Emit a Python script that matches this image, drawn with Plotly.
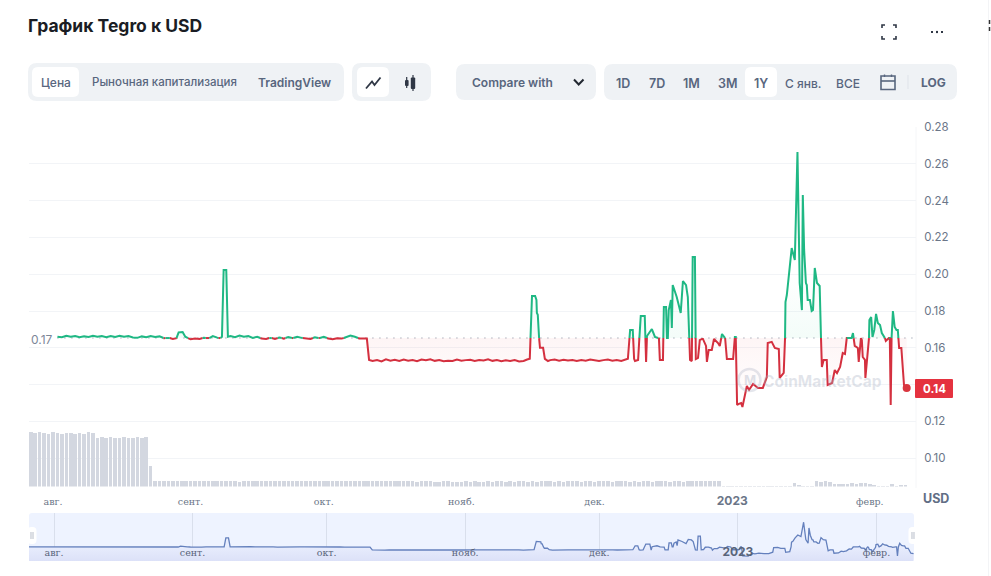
import numpy as np
import pandas as pd
import plotly.graph_objects as go

# ---------- data ----------
ORIGIN = "2022-08-01"
BASE_PRICE = 0.1653
TITLE = "График Tegro к USD"
Y_TICKS = [0.28, 0.26, 0.24, 0.22, 0.20, 0.18, 0.16, 0.14, 0.12, 0.10]
Y_LABELS = ["0.28", "0.26", "0.24", "0.22", "0.20", "0.18", "0.16", "", "0.12", "0.10"]
MONTH_DATES = ["2022-08-01", "2022-09-01", "2022-10-01", "2022-11-01", "2022-12-01", "2023-01-01", "2023-02-01"]
YEAR_LABEL = '<span style="font-family:Inter;font-size:12px;font-weight:700"><b>2023</b></span>'
MONTH_LABELS = ["авг.", "сент.", "окт.", "нояб.", "дек.", YEAR_LABEL, "февр."]

days_1 = [1, 2, 3, 4, 5, 6, 7, 8, 9, 10, 11, 12, 13, 14, 15, 16, 17, 18, 19, 20, 21, 22, 23, 24, 25, 26, 27, 27.8, 28.3, 29.2, 29.8, 30.5, 31, 32, 33, 34, 35, 36, 37, 37.6, 38.06, 38.44, 39.03, 39.4,
          40, 41, 42, 43, 44, 45, 46, 47, 48, 49, 50, 51, 52, 53, 54, 55, 56, 57, 58, 59, 60, 61, 62, 63, 64, 65, 66, 67, 68, 69, 70, 70.7, 71.2]
prices_1 = [.1660, .1657, .1665, .1660, .1664, .1658, .1663, .1659, .1665, .1660, .1664, .1658, .1664, .1659, .1665, .1660, .1664, .1656, .1654, .1662, .1658, .1664, .1659, .1662, .1652, .1655, .1648, .1652, .1684, .1686, .1660, .1652, .1646, .1650, .1648, .1655, .1650, .1664, .1655, .1650, .1660, .2023, .2023, .1660,
            .1664, .1658, .1666, .1660, .1664, .1654, .1660, .1650, .1648, .1655, .1648, .1656, .1650, .1658, .1652, .1660, .1654, .1650, .1648, .1657, .1652, .1660, .1650, .1646, .1652, .1650, .1656, .1666, .1660, .1650, .1650, .1650, .1534]

days_2 = [72, 73, 74, 75, 76, 77, 78, 79, 80, 81, 82, 83, 84, 85, 86, 87, 88, 89, 90, 91, 92, 93, 94, 95, 96, 97, 98, 99, 100, 101, 102, 103, 104, 105, 106, 106.8,
          107.4, 107.9, 108.6, 108.9, 109.0, 109.2, 109.5, 109.7, 110.4, 110.8, 111.5]
prices_2 = [.1528, .1534, .1526, .1537, .1530, .1535, .1528, .1536, .1530, .1534, .1527, .1536, .1532, .1537, .1529, .1533, .1527, .1530, .1528, .1536, .1530, .1533, .1535, .1529, .1534, .1531, .1537, .1529, .1533, .1527, .1532, .1528, .1534, .1526, .1528, .1536,
            .1540, .1882, .1882, .1860, .1789, .1780, .1653, .1600, .1600, .1540, .1528]

days_3 = [112, 113, 114, 115, 116, 117, 118, 119, 120, 121, 122, 123, 124, 125, 126, 127, 128, 129, 129.5, 130.0, 130.6, 130.9, 131.1, 131.8, 132.2, 132.4, 133.3, 133.6, 133.8,
          134.9, 135.6, 136.3, 136.5, 136.7, 137.4, 137.6, 138.1, 138.3, 138.5, 138.7, 139.2, 139.4, 139.6, 140.5, 141.4, 141.9, 142.6, 143.0, 143.5, 143.9, 144.1, 144.6, 144.8,
          145.3, 145.7, 146.2, 146.4, 147.1, 147.3, 147.7, 148.4, 148.9, 149.8, 150.2, 150.7, 151.4, 151.8, 153.2, 153.6, 153.8, 154.1, 154.5, 155.0, 155.3, 155.9, 156.3, 156.8, 157.7, 158.8, 159.9, 160.8]
prices_3 = [.1533, .1536, .1530, .1535, .1531, .1534, .1528, .1533, .1530, .1536, .1531, .1528, .1533, .1536, .1530, .1534, .1529, .1534, .1540, .1697, .1697, .1540, .1528, .1534, .1700, .1773, .1773, .1523, .1664,
            .1702, .1659, .1653, .1650, .1534, .1534, .1822, .1822, .1653, .1653, .1805, .1860, .1708, .1941, .1876, .1789, .1963, .1941, .1876, .1534, .1528, .2093, .2093, .1539,
            .1545, .1642, .1648, .1648, .1610, .1523, .1588, .1588, .1648, .1626, .1610, .1675, .1653, .1539, .1539, .1659, .1659, .1289, .1295, .1300, .1278, .1354, .1392, .1371, .1403, .1382, .1382, .1441]

days_4 = [161.0, 161.9, 162.6, 163.5, 163.7, 164.6, 164.9, 165.0, 165.3, 165.8, 166.4, 167.1, 167.7, 168.2, 168.7, 168.9, 169.2, 169.6, 169.8, 170.0, 170.5, 170.9, 171.2, 171.6, 172.1, 172.7, 173.0, 173.2,
          173.6, 174.3, 174.5, 175.5, 176.1, 176.6, 177.3, 177.9, 178.4, 178.8, 179.9, 180.2, 180.6, 181.3, 181.5, 182.0, 182.2, 182.4, 182.9, 183.0, 183.6, 183.8, 183.9, 184.3, 184.6, 185.0, 185.4, 185.8, 186.3, 186.7, 187.4, 187.6,
          188.3, 188.5, 188.7, 188.9, 189.2, 189.6, 190.0, 190.3, 190.6, 191.1, 191.7, 192.3]
prices_4 = [.1626, .1632, .1599, .1593, .1436, .1463, .1653, .1849, .1887, .2023, .2142, .2077, .2664, .1952, .1805, .2430, .2132, .1952, .1941, .1860, .1860, .1800, .1805, .2034, .1952, .1936, .1653, .1496,
            .1534, .1534, .1398, .1409, .1479, .1463, .1496, .1572, .1566, .1653, .1653, .1680, .1610, .1599, .1523, .1653, .1642, .1550, .1534, .1436, .1588, .1642, .1751, .1767, .1659, .1697, .1784, .1735, .1724, .1680, .1653, .1637,
            .1653, .1653, .1289, .1653, .1800, .1713, .1697, .1697, .1599, .1599, .1398, .1382]

vol_tall = [55, 54, 55, 54, 53, 55, 54, 53, 54, 54, 53, 54, 53, 55, 54, 49, 50, 49, 50, 49, 49, 50, 49, 49, 50, 49, 50]
vol_step = [21]
vol_small = [6, 6, 6, 6, 6, 6, 6, 6, 6, 6, 6, 6, 6, 6, 6, 6,
             6, 6, 6, 5.5, 6, 6, 6, 6, 6, 6, 6, 6, 6, 6, 6, 6,
             6, 6, 6, 6, 6, 6, 6, 6, 6, 6, 6, 6, 6, 6, 6, 6,
             6, 6, 6, 6, 6, 6, 6, 6, 6, 6, 6, 5.5, 6, 6, 6, 5.5,
             5.5, 6, 6, 5.5, 5.5, 5.5, 6, 5.5, 6, 5.5, 5.5, 6, 5.5, 6, 6, 5.5,
             6, 5.5, 6, 6, 5.5, 6, 5.5, 6, 6, 6, 5.5, 6, 5.5, 6, 6, 6,
             5.5, 6, 6, 5.5, 6, 6, 6, 5.5, 6, 6, 6, 5.5, 6, 5.5, 6, 6,
             5.5, 6, 6, 6, 5.5, 6, 6, 5.5, 6, 6, 6, 6, 6, 6, 6, 6]
vol_tiny = [1, 1, 1, 1, 1, 1, 1, 1, 1, .5, 1, 1, .5, 1, 1, 1, 4, 2, 1, 1, 1, 6, 5, 6, 5, 3, 3, 3, 3, 4, 3, 4, 4, 3, 2, 1, 1, 1, 3, 1, 2, 2]

# ---------- assembling ----------
origin = pd.Timestamp(ORIGIN)


def to_date(d):
    return origin + pd.to_timedelta(np.asarray(d, dtype=float), unit="D")


days = np.array(days_1 + days_2 + days_3 + days_4, dtype=float)
prices = np.array(prices_1 + prices_2 + prices_3 + prices_4, dtype=float)
assert len(days) == len(prices), (len(days), len(prices))

# cut the line where it crosses the opening price
sx, sy = [days[0]], [prices[0]]
for i in range(1, len(days)):
    p0, p1 = prices[i - 1], prices[i]
    if (p0 - BASE_PRICE) * (p1 - BASE_PRICE) < 0:
        t = (BASE_PRICE - p0) / (p1 - p0)
        sx.append(days[i - 1] + t * (days[i] - days[i - 1]))
        sy.append(BASE_PRICE)
    sx.append(days[i])
    sy.append(p1)
sx, sy = np.array(sx), np.array(sy)
dates = to_date(sx)
up_line = [v if v >= BASE_PRICE else None for v in sy]
dn_line = [v if v <= BASE_PRICE else None for v in sy]
up_fill = np.maximum(sy, BASE_PRICE)
dn_fill = np.minimum(sy, BASE_PRICE)
base_arr = np.full(len(sy), BASE_PRICE)

volumes = vol_tall + vol_step + vol_small + vol_tiny
vol_days = np.arange(-5, -5 + len(volumes))

W, H = 991, 576


def X(p):
    return p / W


def Y(p):
    return 1 - p / H


def pth(points, close=False):
    s = "M" + " L".join(f"{X(a):.5f},{Y(b):.5f}" for a, b in points)
    return s + (" Z" if close else "")


def rrect(x0, y0, x1, y1, r):
    c = lambda a, b: f"{X(a):.5f},{Y(b):.5f}"
    return (f"M{c(x0 + r, y0)} L{c(x1 - r, y0)} Q{c(x1, y0)} {c(x1, y0 + r)} L{c(x1, y1 - r)} Q{c(x1, y1)} {c(x1 - r, y1)} "
            f"L{c(x0 + r, y1)} Q{c(x0, y1)} {c(x0, y1 - r)} L{c(x0, y0 + r)} Q{c(x0, y0)} {c(x0 + r, y0)} Z")


shapes = []


def add_fill(path, color, layer="below"):
    shapes.append(dict(type="path", xref="paper", yref="paper", path=path, fillcolor=color, line=dict(width=0), layer=layer))


def add_line(points, color, width=2, close=False, layer="above"):
    shapes.append(dict(type="path", xref="paper", yref="paper", path=pth(points, close), line=dict(color=color, width=width),
                       fillcolor="rgba(0,0,0,0)", layer=layer))


PANEL = "#eff2f5"
add_fill(rrect(28, 63, 344, 101, 9), PANEL)
add_fill(rrect(32, 67, 79, 97, 6), "#ffffff")
add_fill(rrect(352, 63, 431, 101, 9), PANEL)
add_fill(rrect(357, 67, 389, 97, 6), "#ffffff")
add_fill(rrect(456, 64, 596, 100, 9), PANEL)
add_fill(rrect(604, 64, 957, 100, 9), PANEL)
add_fill(rrect(745, 67, 777, 97, 6), "#ffffff")
add_line([(908, 75), (908, 89)], "#dfe3e9", 1, layer="below")

# navigator background and page edge
add_fill(rrect(29, 513, 914, 561, 3), "#eef3ff")
add_line([(988.5, 0), (988.5, 576)], "#f3f4f6", 1, layer="below")
add_line([(916, 127), (916, 488)], "#f5f6f8", 1, layer="below")
add_line([(989.5, 20), (989.5, 24)], "#333333", 1.5)
add_line([(989.5, 27), (989.5, 31)], "#333333", 1.5)

ICON = "#2f3745"
# fullscreen corners
for sxn, syn in ((-1, -1), (1, -1), (-1, 1), (1, 1)):
    add_line([(889 + sxn * 4, 32 + syn * 7), (889 + sxn * 7, 32 + syn * 7), (889 + sxn * 7, 32 + syn * 4)], ICON, 1.6)
# three dots
for cx in (932, 937, 942):
    add_line([(cx - 1, 32), (cx + 1, 32)], ICON, 2.2)
# line-chart icon
add_line([(366, 88.5), (372, 81.5), (374.5, 85), (380.5, 77.5)], ICON, 1.8)
# candle icon
add_line([(406.7, 77), (406.7, 88)], ICON, 1.2)
add_fill(rrect(405, 80, 408.6, 86, 1), ICON, "above")
add_line([(413, 75), (413, 91)], ICON, 1.2)
add_fill(rrect(410.8, 77.5, 415.2, 89, 1), ICON, "above")
# chevron
add_line([(574, 79.5), (578.7, 84.5), (583.5, 79.5)], "#222831", 2)
# calendar icon
add_line([(881, 76), (895, 76), (895, 89.5), (881, 89.5)], "#58667e", 1.6, close=True)
add_line([(881, 81), (895, 81)], "#58667e", 1.6)
add_line([(884.5, 74.5), (884.5, 77)], "#58667e", 1.4)
add_line([(891.5, 74.5), (891.5, 77)], "#58667e", 1.4)
# dotted opening-price line
shapes.append(dict(type="line", xref="x", yref="y", x0=to_date(1), x1=to_date(194.4), y0=BASE_PRICE, y1=BASE_PRICE,
                   line=dict(color="#7f8999", width=1.1, dash="1px 6px"), layer="below"))
# last-price badge
add_fill(rrect(915, 379, 953, 398, 1), "#e5323f", "above")
# watermark ring
shapes.append(dict(type="circle", xref="paper", yref="paper", x0=X(738.5), x1=X(760.5), y0=Y(369), y1=Y(391),
                   line=dict(color="rgba(170,178,195,0.32)", width=2.5), fillcolor="rgba(0,0,0,0)", layer="above"))
# navigator handles
for hx in (32, 913):
    add_fill(rrect(hx - 4.5, 527, hx + 4.5, 544, 4), "#ffffff", "above")
    add_line([(hx - 1, 532), (hx - 1, 539)], "#b8bec9", 1)
    add_line([(hx + 1, 532), (hx + 1, 539)], "#b8bec9", 1)

FONT = "Inter"
TXT = "#58667e"


def note(text, x, y, size=12, color=TXT, weight=500, anchor="center", family=FONT):
    return dict(text=text, x=X(x), y=Y(y), xref="paper", yref="paper", xanchor=anchor, yanchor="middle", showarrow=False,
                font=dict(family=family, size=size, color=color, weight=weight))


annotations = [
    note(TITLE, 26, 26, 17.5, "#1a1d24", 700, "left"),
    note("Цена", 56, 82, 12),
    note("Рыночная капитализация", 164, 82, 11.5),
    note("TradingView", 294, 82, 12, weight=600),
    note("Compare with", 512, 82, 12, weight=600),
    note("1D", 623, 83, 12.5, weight=600),
    note("7D", 657, 83, 12.5, weight=600),
    note("1M", 691, 83, 12.5, weight=600),
    note("3M", 727, 83, 12.5, weight=600),
    note("1Y", 761, 83, 12.5, weight=600),
    note("С янв.", 803, 83, 12),
    note("ВСЕ", 848, 83, 12),
    note("LOG", 933, 82, 12, weight=700),
    note("0.17", 42, 339.5, 12, "#7d8798", 400),
    note("USD", 936, 498, 12.5, "#616e85", 700),
    note("0.14", 934, 388.5, 11.5, "#ffffff", 700),
    note("CoinMarketCap", 822, 381, 15.5, "rgba(170,178,195,0.34)", 700),
    note("M", 749.5, 380, 13, "rgba(170,178,195,0.4)", 700),
]

fig = go.Figure()
GREEN, RED = "#1fb884", "#d4303f"
# fills
fig.add_trace(go.Scatter(x=dates, y=base_arr, mode="lines", line=dict(width=0), hoverinfo="skip"))
fig.add_trace(go.Scatter(x=dates, y=up_fill, mode="lines", line=dict(width=0), fill="tonexty", hoverinfo="skip",
                         fillgradient=dict(type="vertical", start=BASE_PRICE, stop=0.20,
                                           colorscale=[[0, "rgba(22,199,132,0.05)"], [1, "rgba(22,199,132,0)"]])))
fig.add_trace(go.Scatter(x=dates, y=base_arr, mode="lines", line=dict(width=0), hoverinfo="skip"))
fig.add_trace(go.Scatter(x=dates, y=dn_fill, mode="lines", line=dict(width=0), fill="tonexty", hoverinfo="skip",
                         fillgradient=dict(type="vertical", start=BASE_PRICE, stop=0.13,
                                           colorscale=[[0, "rgba(234,57,67,0.05)"], [1, "rgba(234,57,67,0)"]])))
# lines
fig.add_trace(go.Scatter(x=dates, y=dn_line, mode="lines", line=dict(color=RED, width=2), connectgaps=False))
fig.add_trace(go.Scatter(x=dates, y=up_line, mode="lines", line=dict(color=GREEN, width=2), connectgaps=False))
fig.add_trace(go.Scatter(x=[dates[-1]], y=[sy[-1]], mode="markers", marker=dict(color="#d9363f", size=8)))
# volume
fig.add_trace(go.Bar(x=to_date(vol_days), y=volumes, yaxis="y2", marker=dict(color="#d3d7e0", line=dict(width=0)),
                     width=86400000 * 0.8))
# navigator
nav_days = np.concatenate(([-5.6], days))
nav_prices = np.concatenate(([prices[0]], prices))
fig.add_trace(go.Scatter(x=to_date(nav_days), y=nav_prices, xaxis="x2", yaxis="y3", mode="lines",
                         line=dict(color="#6480bd", width=1.3), fill="tozeroy",
                         fillgradient=dict(type="vertical", start=0.17, stop=0.108,
                                           colorscale=[[0, "#e8edfd"], [1, "#dce1f8"]])))

tick_font = dict(family="DejaVu Serif", size=9.5, color="#6b7688")
fig.update_layout(
    width=W, height=H, autosize=False, margin=dict(l=0, r=0, t=0, b=0, autoexpand=False),
    paper_bgcolor="#ffffff", plot_bgcolor="rgba(0,0,0,0)", showlegend=False, hovermode=False,
    shapes=shapes, annotations=annotations, bargap=0,
    font=dict(family=FONT, color=TXT),
    xaxis=dict(domain=[X(29), X(916)], range=[to_date(-5.405), to_date(194.4)], type="date", anchor="y",
               tickmode="array", tickvals=MONTH_DATES, ticktext=MONTH_LABELS, tickfont=tick_font,
               showgrid=False, showline=False, zeroline=False, ticks="outside", ticklen=5, tickcolor="rgba(0,0,0,0)"),
    yaxis=dict(domain=[Y(488), Y(127)], range=[0.0838, 0.28], side="right", anchor="x",
               tickmode="array", tickvals=Y_TICKS, ticktext=Y_LABELS,
               tickfont=dict(family=FONT, size=11.5, color="#6b7688"),
               gridcolor="#f2f4f7", gridwidth=1, zeroline=False, showline=False, ticks="outside", ticklen=5,
               tickcolor="rgba(0,0,0,0)"),
    yaxis2=dict(domain=[Y(486.5), Y(426.5)], range=[0, 60], anchor="x", visible=False, fixedrange=True),
    xaxis2=dict(domain=[X(29), X(914)], range=[to_date(-5.6), to_date(192.4)], type="date", anchor="y3",
                tickmode="array", tickvals=MONTH_DATES, ticktext=MONTH_LABELS, tickfont=dict(tick_font, color="#59647a"),
                ticklabelposition="inside", ticks="", showgrid=True, gridcolor="#d9dfec", gridwidth=1,
                showline=False, zeroline=False),
    yaxis3=dict(domain=[Y(561), Y(513)], range=[0.108, 0.304], anchor="x2", visible=False, fixedrange=True),
)

fig.write_html("out.html", config=dict(displayModeBar=False),
               post_script="document.body.style.margin='0';document.documentElement.style.overflow='hidden';")
